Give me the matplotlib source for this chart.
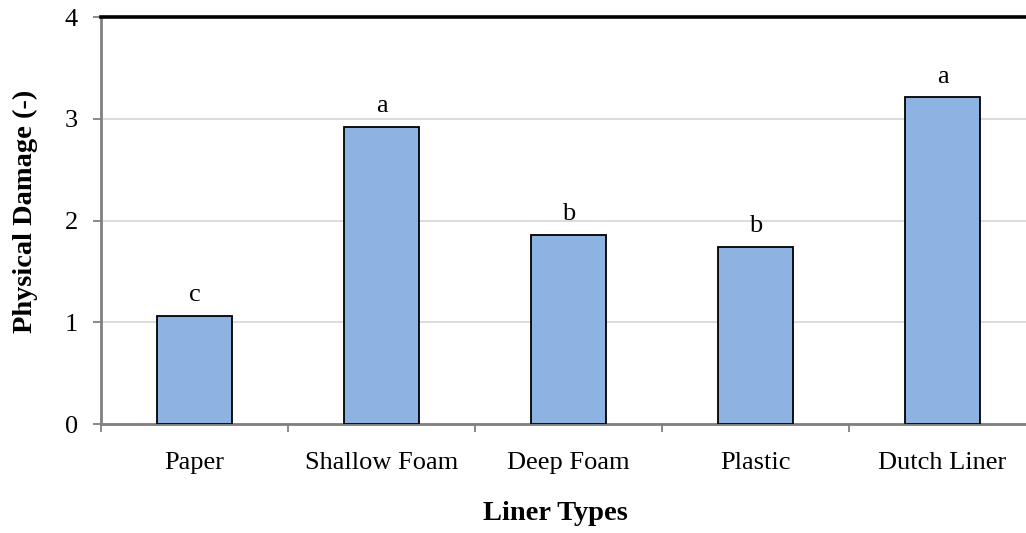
import matplotlib.pyplot as plt
import numpy as np

plt.rcParams['font.family'] = ['Liberation Serif', 'DejaVu Serif']

liners = ['Paper', 'Shallow Foam', 'Deep Foam', 'Plastic', 'Dutch Liner']
damage = [1.06, 2.92, 1.86, 1.74, 3.21]
letters = ['c', 'a', 'b', 'b', 'a']

fig = plt.figure(figsize=(10.26, 5.33), dpi=100)
ax = fig.add_axes([0.0984, 0.2045, 0.9113, 0.7636])

x = np.arange(len(liners))
ax.bar(x, damage, width=0.4, color='#8DB3E2', edgecolor='black', linewidth=1.3, zorder=3)

for xi, v, l in zip(x, damage, letters):
    ax.annotate(l, (xi, v), xytext=(0, 15), textcoords='offset points',
                ha='center', va='center', fontsize=19)

ax.set_xlim(-0.5, len(liners) - 0.5)
ax.set_ylim(0, 4)
ax.set_yticks([0, 1, 2, 3, 4])
ax.yaxis.grid(True, color='#D9D9D9', linewidth=1.3, zorder=0)

# boundary ticks as major, category names as minor
ax.set_xticks(np.arange(len(liners) + 1) - 0.5)
ax.set_xticklabels([])
ax.set_xticks(x, minor=True)
ax.set_xticklabels(liners, minor=True)
ax.tick_params(axis='x', which='major', direction='out', length=6, color='#808080', width=1.3)
ax.tick_params(axis='x', which='minor', length=0, labelsize=19, pad=20)
ax.tick_params(axis='y', direction='out', length=5.5, color='#808080', width=1.3, labelsize=19, pad=11)

ax.spines['right'].set_visible(False)
ax.spines['top'].set_color('black')
ax.spines['top'].set_linewidth(2.6)
ax.spines['left'].set_color('#808080')
ax.spines['left'].set_linewidth(2)
ax.spines['bottom'].set_color('#808080')
ax.spines['bottom'].set_linewidth(2)

ax.set_ylabel('Physical Damage (-)', fontsize=20.5, fontweight='bold')
ax.yaxis.set_label_coords(-0.067, 0.523)
ax.set_xlabel('Liner Types', fontsize=20.5, fontweight='bold')
ax.xaxis.set_label_coords(0.486, -0.19)

fig.savefig('out.png', dpi=100)
